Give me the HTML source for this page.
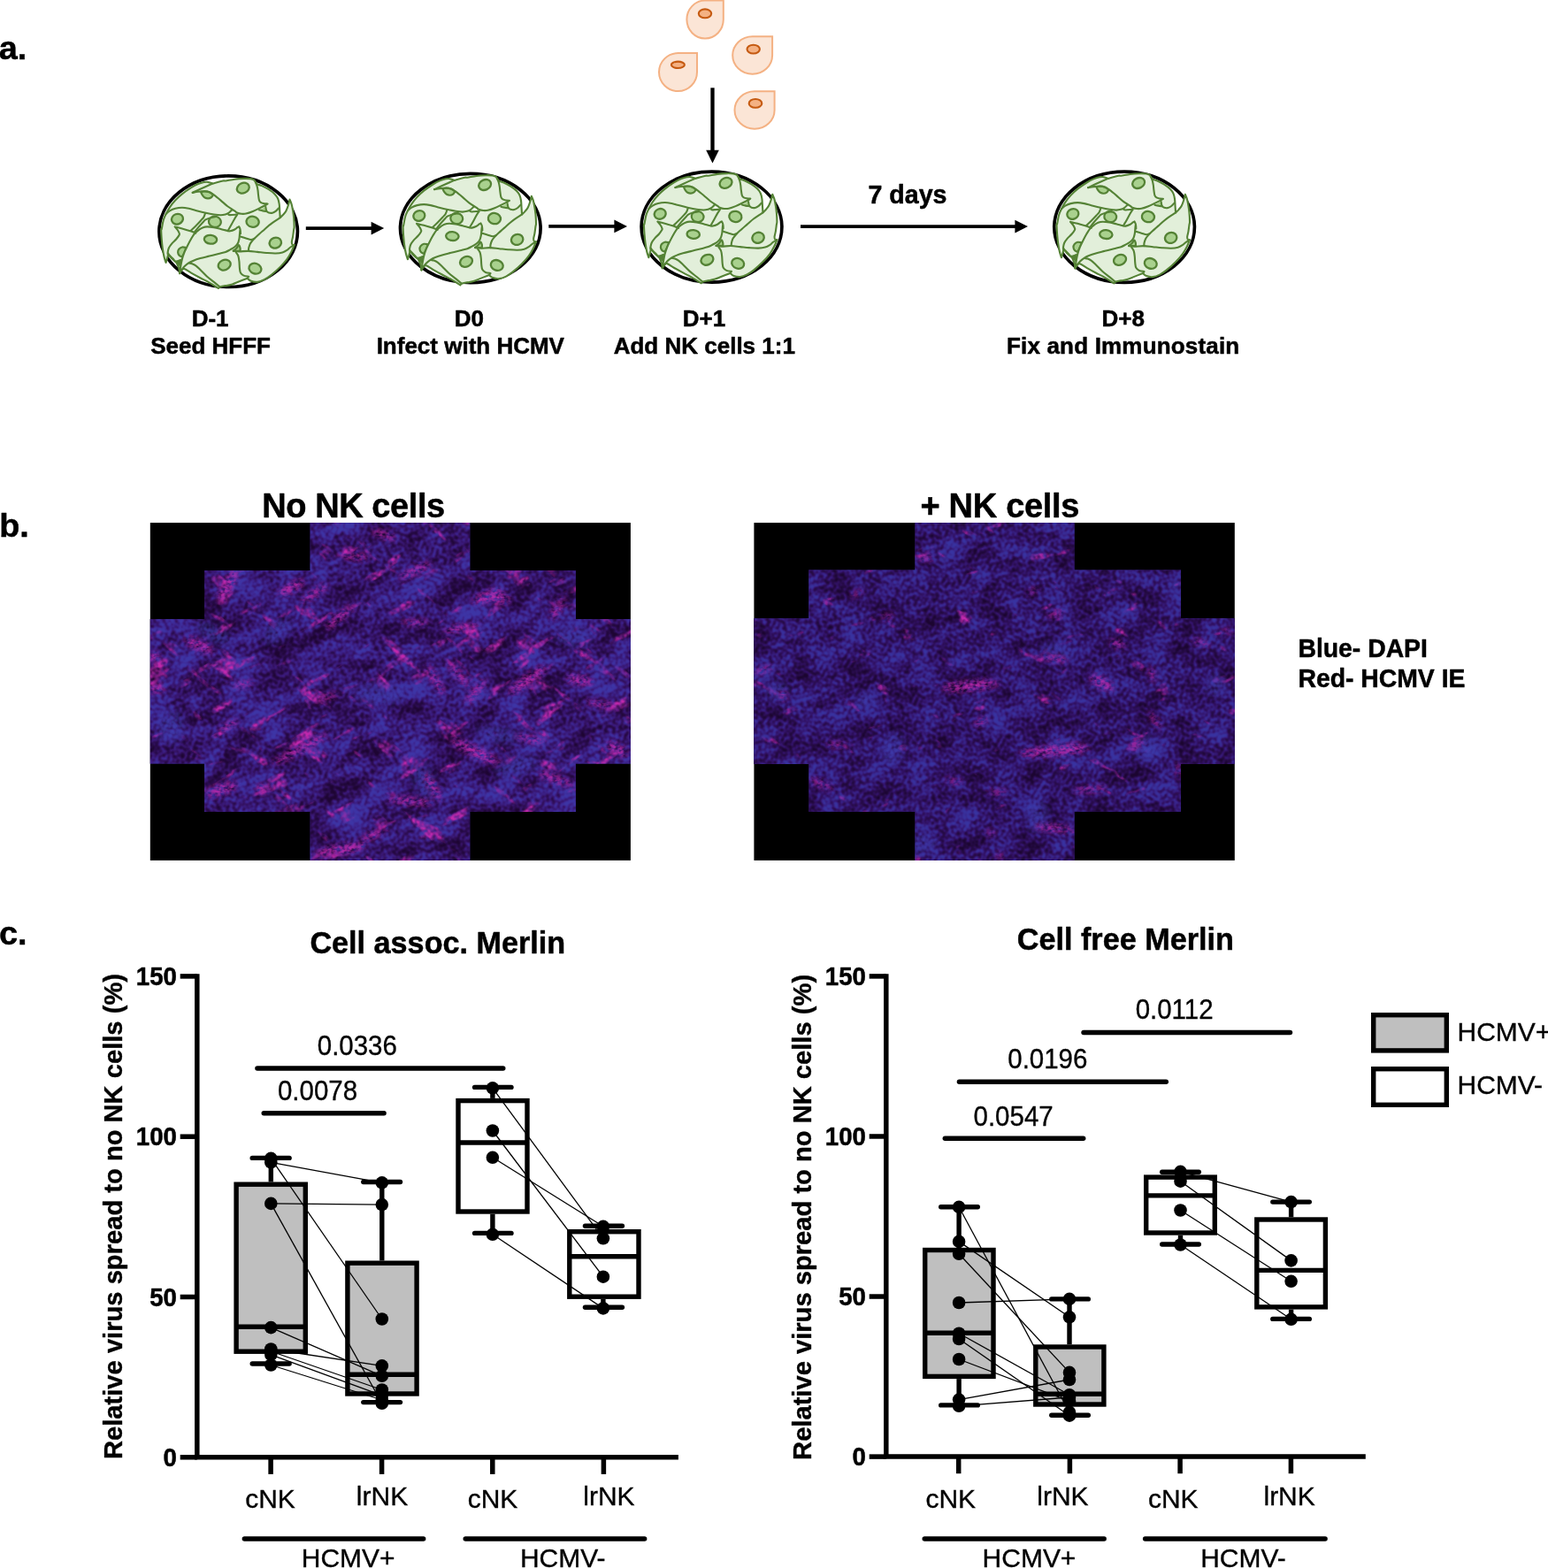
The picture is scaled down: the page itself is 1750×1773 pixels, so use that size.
<!DOCTYPE html>
<html lang="en">
<head>
<meta charset="utf-8">
<title>Figure</title>
<style>
html,body{margin:0;padding:0;background:#fff;}
body{width:1750px;height:1773px;overflow:hidden;font-family:"Liberation Sans",sans-serif;}
svg{display:block;}
svg text{font-family:"Liberation Sans",sans-serif;fill:#000;}
.b{font-weight:bold;stroke:#000;stroke-width:0.5px;stroke-linejoin:round;}
</style>
</head>
<body>
<svg width="1750" height="1773" viewBox="0 0 1750 1773">
<rect x="0" y="0" width="1750" height="1773" fill="#fff"/>
<defs>
<g id="dish">
<path d="M-70.55 35.99C-70.89 34.91 -71.96 32.34 -72.61 29.56C-73.25 26.77 -73.94 22.7 -74.41 19.27C-74.88 15.84 -75.18 12.41 -75.44 8.99C-75.69 5.56 -75.95 0.53 -75.95 -1.3C-75.95 -3.13 -75.86 -0.18 -75.44 -2.01C-75.01 -3.85 -74.19 -9.47 -73.38 -12.3C-72.56 -15.13 -71.75 -16.59 -70.55 -18.99C-69.35 -21.39 -67.94 -24.13 -66.18 -26.7C-64.42 -29.27 -62.32 -31.93 -60.01 -34.41C-57.69 -36.9 -55.29 -39.21 -52.29 -41.61C-49.29 -44.01 -45.01 -46.93 -42.01 -48.81C-39.01 -50.7 -36.69 -51.9 -34.29 -52.93C-31.89 -53.96 -29.32 -54.6 -27.61 -54.99C-25.89 -55.37 -25.12 -55.33 -24.01 -55.24C-22.89 -55.16 -21.95 -54.77 -20.92 -54.47C-19.89 -54.17 -18.35 -53.61 -17.84 -53.44L-17.84 -53.44C-15.86 -53.96 -8.45 -56.01 -6.01 -56.53C-3.56 -57.04 -5.34 -56.23 -3.15 -56.53C-0.96 -56.83 3.71 -57.9 7.14 -58.33C10.56 -58.76 14.42 -59.01 17.42 -59.1C20.42 -59.19 23.25 -59.1 25.14 -58.84C27.02 -58.59 27.79 -58.2 28.74 -57.56C29.68 -56.91 30.19 -55.8 30.79 -54.99C31.39 -54.17 32.08 -53.06 32.34 -52.67L32.34 -52.67C33.28 -52.37 35.76 -51.86 37.99 -50.87C40.22 -49.89 43.31 -48.3 45.71 -46.76C48.11 -45.21 50.68 -43.33 52.39 -41.61C54.11 -39.9 55.14 -38.36 55.99 -36.47C56.85 -34.59 57.19 -32.61 57.54 -30.3C57.88 -27.99 57.88 -25.16 58.05 -22.59C58.22 -20.01 58.48 -16.16 58.56 -14.87L58.56 -14.87C59.16 -15.47 61.05 -17.19 62.16 -18.47C63.28 -19.76 64.31 -20.79 65.25 -22.59C66.19 -24.39 67.14 -27.13 67.82 -29.27C68.51 -31.41 69.11 -34.41 69.36 -35.44L69.36 -35.44C69.71 -34.59 70.82 -32.44 71.42 -30.3C72.02 -28.16 72.54 -25.16 72.96 -22.59C73.39 -20.01 73.74 -17.87 73.99 -14.87C74.25 -11.87 74.51 -6.85 74.51 -4.59C74.51 -2.32 74.25 -3.13 73.99 -1.3C73.74 0.53 73.35 4.1 72.96 6.41C72.58 8.73 71.76 11.04 71.68 12.59C71.59 14.13 71.98 15.11 72.45 15.67C72.92 16.23 74.16 15.89 74.51 15.93L74.51 15.93C73.99 17.17 72.79 20.69 71.42 23.39C70.05 26.09 68.42 29.21 66.28 32.13C64.14 35.04 61.56 37.87 58.56 40.87C55.56 43.87 51.28 47.73 48.28 50.13C45.28 52.53 43.14 53.99 40.56 55.27C37.99 56.56 35.34 57.59 32.85 57.84C30.36 58.1 27.54 57.5 25.65 56.81C23.76 56.13 22.22 54.24 21.54 53.73L21.54 53.73C19.99 54.33 15.11 56.21 12.28 57.33C9.45 58.44 7.14 59.6 4.56 60.41C1.99 61.23 -1.82 61.96 -3.15 62.21C-4.48 62.47 -2.45 61.79 -3.44 61.96C-4.43 62.13 -7.81 62.73 -9.09 63.24C-10.38 63.76 -10.81 64.74 -11.15 65.04L-11.15 65.04C-12.86 63.97 -18.01 60.59 -21.44 58.61C-24.86 56.64 -28.29 55.06 -31.72 53.21C-35.15 51.37 -39.01 49.27 -42.01 47.56C-45.01 45.84 -47.92 43.44 -49.72 42.93C-51.52 42.41 -51.91 43.61 -52.81 44.47C-53.71 45.33 -54.74 47.47 -55.12 48.07L-55.12 48.07C-55.25 47.13 -55.34 44.39 -55.89 42.41C-56.45 40.44 -58.04 37.27 -58.46 36.24L-58.46 36.24C-59.32 35.47 -62.06 33.07 -63.61 31.61C-65.15 30.16 -66.78 27.5 -67.72 27.5C-68.66 27.5 -68.79 30.2 -69.26 31.61C-69.74 33.03 -70.34 35.26 -70.55 35.99Z" fill="#E2EFDA" stroke="#548235" stroke-width="2.1" stroke-linejoin="round"/>
<g fill="#A9D18E" stroke="#548235" stroke-width="2.2" stroke-linejoin="round">
<path d="M-31.21 -44.19C-30.86 -43.5 -29.92 -41.19 -29.15 -40.07C-28.38 -38.96 -27.61 -38.08 -26.58 -37.5C-25.55 -36.92 -24.18 -36.53 -22.98 -36.57C-21.78 -36.62 -20.36 -37.05 -19.38 -37.76C-18.39 -38.47 -17.45 -40.33 -17.06 -40.84L-17.06 -40.84C-17.79 -41.31 -19.85 -43.03 -21.44 -43.67C-23.02 -44.31 -24.95 -44.61 -26.58 -44.7C-28.21 -44.79 -30.44 -44.27 -31.21 -44.19Z"/>
<path d="M-47.66 19.01C-48.44 18.93 -50.92 18.2 -52.29 18.5C-53.66 18.8 -55.1 19.83 -55.89 20.81C-56.68 21.8 -57.11 23.21 -57.02 24.41C-56.94 25.61 -56.17 27.16 -55.38 28.01C-54.59 28.87 -52.81 29.3 -52.29 29.56L-52.29 29.56C-51.86 28.7 -50.49 26.17 -49.72 24.41C-48.95 22.66 -48.01 19.91 -47.66 19.01Z"/>
<path d="M5.59 22.61C6.19 22.14 8.16 20.86 9.19 19.79C10.22 18.71 11.08 16.27 11.76 16.19C12.45 16.1 13.03 18.16 13.31 19.27C13.58 20.39 13.39 22.27 13.41 22.87L13.41 22.87C12.11 22.83 6.9 22.66 5.59 22.61Z"/>
<path d="M35.94 -23.87C36.79 -24.3 40.01 -26.66 41.08 -26.44C42.15 -26.23 42.15 -23.23 42.36 -22.59L42.36 -22.59C41.29 -22.8 37.01 -23.66 35.94 -23.87Z" stroke="none"/>
<ellipse cx="-15.26" cy="-10.24" rx="6.94" ry="6.07" transform="rotate(10 -15.26 -10.24)"/>
</g>
<path d="M-55.12 48.07C-54.91 46.7 -54.31 42.5 -53.84 39.84C-53.36 37.19 -52.98 34.7 -52.29 32.13C-51.61 29.56 -50.75 26.99 -49.72 24.41C-48.69 21.84 -47.41 19.27 -46.12 16.7C-44.84 14.13 -43.38 11.3 -42.01 8.99C-40.64 6.67 -39.39 4.53 -37.89 2.81C-36.39 1.1 -34.46 -0.23 -33.01 -1.29C-31.55 -2.36 -30.65 -3.01 -29.15 -3.56C-27.65 -4.11 -26.15 -4.54 -24.01 -4.59C-21.86 -4.63 -18.86 -4.24 -16.29 -3.81C-13.72 -3.39 -11.15 -2.66 -8.58 -2.01C-6.01 -1.37 -2.63 -0.34 -0.86 0.04C0.9 0.43 0.66 0.56 1.99 0.3C3.33 0.04 5.76 -0.81 7.14 -1.5C8.51 -2.19 9.41 -3.26 10.22 -3.81C11.04 -4.37 11.72 -4.67 12.02 -4.84L12.02 -4.84C12.24 -4.37 13.01 -3.34 13.31 -2.01C13.61 -0.69 13.82 3.01 13.82 3.13C13.82 3.25 13.48 -1.42 13.31 -1.3C13.14 -1.18 12.96 2.13 12.79 3.84C12.62 5.56 12.62 7.27 12.28 8.99C11.94 10.7 11.59 12.59 10.74 14.13C9.88 15.67 8.59 17.04 7.14 18.24C5.68 19.44 3.71 20.39 1.99 21.33C0.28 22.27 -0.96 23.13 -3.15 23.9C-5.34 24.67 -8.1 25.19 -11.15 25.96C-14.2 26.73 -18.01 27.67 -21.44 28.53C-24.86 29.39 -28.72 30.24 -31.72 31.1C-34.72 31.96 -37.29 32.81 -39.44 33.67C-41.58 34.53 -42.86 35.13 -44.58 36.24C-46.29 37.36 -48.26 38.9 -49.72 40.36C-51.18 41.81 -52.42 43.7 -53.32 44.99C-54.22 46.27 -54.82 47.56 -55.12 48.07Z" fill="#E2EFDA" stroke="none"/>
<path d="M3.28 -19.76C3.79 -20.07 5.48 -21.72 6.36 -21.66C7.25 -21.6 8.21 -19.77 8.58 -19.4L8.58 -19.4C7.69 -19.46 4.16 -19.7 3.28 -19.76Z" fill="#fff" stroke="none"/>
<path d="M-59.75 34.7C-58.59 34.31 -53.71 31.27 -52.81 32.39C-51.91 33.5 -54.09 39.89 -54.35 41.39L-54.35 41.39C-55.25 40.27 -58.85 35.81 -59.75 34.7Z" fill="#548235" stroke="none"/>
<g fill="none" stroke="#548235" stroke-width="2.1" stroke-linecap="round" stroke-linejoin="round">
<path d="M-40.46 -43.16C-39.44 -43.33 -36.61 -43.93 -34.29 -44.19C-31.98 -44.44 -28.72 -44.79 -26.58 -44.7C-24.44 -44.61 -23.15 -44.36 -21.44 -43.67C-19.72 -42.99 -18.44 -42.13 -16.29 -40.59C-14.15 -39.04 -11.15 -36.56 -8.58 -34.41C-6.01 -32.27 -3.44 -29.7 -0.86 -27.73C1.71 -25.76 5.12 -23.79 6.88 -22.59C8.64 -21.39 8.38 -21.09 9.71 -20.53C11.04 -19.97 13.14 -19.41 14.85 -19.24C16.56 -19.07 17.85 -19.03 19.99 -19.5C22.14 -19.97 25.14 -21.04 27.71 -22.07C30.28 -23.1 33.28 -24.64 35.42 -25.67C37.56 -26.7 39.06 -27.43 40.56 -28.24C42.06 -29.06 43.78 -30.17 44.42 -30.56L44.42 -30.56C43.78 -30.6 41.81 -30.6 40.56 -30.81C39.32 -31.03 37.91 -31.24 36.96 -31.84C36.02 -32.44 35.42 -32.96 34.91 -34.41C34.39 -35.87 34.14 -38.7 33.88 -40.59C33.62 -42.47 33.62 -44.01 33.36 -45.73C33.11 -47.44 32.76 -49.33 32.34 -50.87C31.91 -52.41 31.05 -54.3 30.79 -54.99"/>
<path d="M-40.46 -43.16C-39.01 -43.84 -35.49 -45.56 -31.72 -47.27C-27.95 -48.99 -20.15 -52.41 -17.84 -53.44"/>
<path d="M-70.55 -18.99C-69.82 -19.59 -67.94 -21.56 -66.18 -22.59C-64.42 -23.61 -62.32 -24.56 -60.01 -25.16C-57.69 -25.76 -54.86 -26.19 -52.29 -26.19C-49.72 -26.19 -47.15 -25.67 -44.58 -25.16C-42.01 -24.64 -39.86 -23.87 -36.86 -23.1C-33.86 -22.33 -30.01 -21.3 -26.58 -20.53C-23.15 -19.76 -19.29 -18.94 -16.29 -18.47C-13.29 -18 -10.72 -17.7 -8.58 -17.7C-6.44 -17.7 -4.89 -18.09 -3.44 -18.47C-1.98 -18.86 -1.04 -19.2 0.16 -20.01C1.36 -20.83 3.16 -22.8 3.76 -23.36"/>
<path d="M0.16 -18.21C0.47 -18.15 0.53 -17.81 1.99 -17.85C3.45 -17.9 7.78 -18.37 8.94 -18.47"/>
<path d="M-26.06 -20.01C-26.36 -19.24 -27.05 -16.76 -27.86 -15.39C-28.68 -14.01 -29.45 -13.41 -30.95 -11.79C-32.45 -10.16 -34.94 -7.54 -36.86 -5.61C-38.79 -3.69 -41.58 -1.11 -42.52 -0.21"/>
<path d="M-13.72 -16.16C-15.01 -15.86 -19.42 -14.96 -21.44 -14.36C-23.45 -13.76 -24.61 -13.33 -25.81 -12.56C-27.01 -11.79 -27.31 -11.14 -28.64 -9.73C-29.96 -8.31 -32.19 -5.91 -33.78 -4.07C-35.36 -2.23 -37.42 0.43 -38.15 1.33"/>
<path d="M-36.86 2.61C-37.72 2.27 -39.44 1.41 -42.01 0.56C-44.58 -0.3 -49.21 -1.67 -52.29 -2.53C-55.38 -3.39 -59.15 -4.24 -60.52 -4.59L-60.52 -4.59C-60.01 -3.99 -58.29 -2.27 -57.44 -0.99C-56.58 0.3 -55.68 2.15 -55.38 3.13C-55.08 4.1 -55.04 3.81 -55.64 4.87C-56.24 5.93 -57.65 7.96 -58.98 9.5C-60.31 11.04 -62.24 12.5 -63.61 14.13C-64.98 15.76 -66.39 17.56 -67.21 19.27C-68.02 20.99 -68.32 23.04 -68.49 24.41C-68.66 25.79 -68.28 26.99 -68.24 27.5"/>
<path d="M-68.24 25.44C-67.89 25.87 -67.12 26.99 -66.18 28.01C-65.24 29.04 -63.69 30.54 -62.58 31.61C-61.46 32.69 -61.04 34.27 -59.49 34.44C-57.95 34.61 -54.35 32.94 -53.32 32.64"/>
<path d="M-55.12 48.07C-54.91 46.7 -54.31 42.5 -53.84 39.84C-53.36 37.19 -52.98 34.7 -52.29 32.13C-51.61 29.56 -50.75 26.99 -49.72 24.41C-48.69 21.84 -47.41 19.27 -46.12 16.7C-44.84 14.13 -43.38 11.3 -42.01 8.99C-40.64 6.67 -39.39 4.53 -37.89 2.81C-36.39 1.1 -34.46 -0.23 -33.01 -1.29C-31.55 -2.36 -30.65 -3.01 -29.15 -3.56C-27.65 -4.11 -26.15 -4.54 -24.01 -4.59C-21.86 -4.63 -18.86 -4.24 -16.29 -3.81C-13.72 -3.39 -11.15 -2.66 -8.58 -2.01C-6.01 -1.37 -2.63 -0.34 -0.86 0.04C0.9 0.43 0.66 0.56 1.99 0.3C3.33 0.04 5.76 -0.81 7.14 -1.5C8.51 -2.19 9.41 -3.26 10.22 -3.81C11.04 -4.37 11.72 -4.67 12.02 -4.84L12.02 -4.84C12.24 -4.37 13.01 -3.34 13.31 -2.01C13.61 -0.69 13.82 3.01 13.82 3.13C13.82 3.25 13.48 -1.42 13.31 -1.3C13.14 -1.18 12.96 2.13 12.79 3.84C12.62 5.56 12.62 7.27 12.28 8.99C11.94 10.7 11.59 12.59 10.74 14.13C9.88 15.67 8.59 17.04 7.14 18.24C5.68 19.44 3.71 20.39 1.99 21.33C0.28 22.27 -0.96 23.13 -3.15 23.9C-5.34 24.67 -8.1 25.19 -11.15 25.96C-14.2 26.73 -18.01 27.67 -21.44 28.53C-24.86 29.39 -28.72 30.24 -31.72 31.1C-34.72 31.96 -37.29 32.81 -39.44 33.67C-41.58 34.53 -42.86 35.13 -44.58 36.24C-46.29 37.36 -48.26 38.9 -49.72 40.36C-51.18 41.81 -52.42 43.7 -53.32 44.99C-54.22 46.27 -54.82 47.56 -55.12 48.07Z"/>
<path d="M10.22 -18.47C9.71 -17.7 8.25 -15.73 7.14 -13.84C6.02 -11.96 4.82 -9.47 3.54 -7.16C2.25 -4.84 0.11 -1.16 -0.58 0.04"/>
<path d="M13.56 6.41C14.64 6.76 17.98 7.87 19.99 8.47C22.01 9.07 24.11 9.97 25.65 10.01C27.19 10.06 28.65 8.94 29.25 8.73"/>
<path d="M58.56 -14.87C56.85 -13.71 51.28 -10.19 48.28 -7.93C45.28 -5.67 43.22 -3.6 40.56 -1.3C37.91 1 34.48 3.93 32.34 5.9C30.19 7.87 28.99 9.07 27.71 10.53C26.42 11.99 25.39 13.19 24.62 14.64C23.85 16.1 23.38 17.9 23.08 19.27C22.78 20.64 22.86 22.27 22.82 22.87"/>
<path d="M5.59 22.87C6.71 22.96 9.45 23.39 12.28 23.39C15.11 23.39 19.14 22.79 22.56 22.87C25.99 22.96 29.42 23.56 32.85 23.9C36.28 24.24 39.71 24.67 43.14 24.93C46.56 25.19 50.42 25.53 53.42 25.44C56.42 25.36 58.99 25.01 61.14 24.41C63.28 23.81 64.82 22.79 66.28 21.84C67.74 20.9 68.51 19.74 69.88 18.76C71.25 17.77 73.74 16.4 74.51 15.93"/>
<path d="M8.68 24.41C9.11 25.1 10.65 26.81 11.25 28.53C11.85 30.24 12.02 32.39 12.28 34.7C12.54 37.01 12.54 40.27 12.79 42.41C13.05 44.56 13.05 46.19 13.82 47.56C14.59 48.93 15.88 49.96 17.42 50.64C18.96 51.33 22.14 51.5 23.08 51.67L23.08 51.67C22.82 52.01 21.79 53.39 21.54 53.73"/>
<path d="M-44.06 36.76C-43.55 36.84 -42.18 36.84 -40.98 37.27C-39.78 37.7 -38.41 38.21 -36.86 39.33C-35.32 40.44 -33.86 41.9 -31.72 43.96C-29.58 46.01 -26.58 49.36 -24.01 51.67C-21.44 53.99 -18.61 55.96 -16.29 57.84C-13.98 59.73 -11.15 62.13 -10.12 62.99"/>
<path d="M42.11 -27.21C42.28 -26.44 42.54 -23.7 43.14 -22.59C43.74 -21.47 44.59 -20.91 45.71 -20.53C46.82 -20.14 48.54 -20.01 49.82 -20.27C51.11 -20.53 52.22 -21.17 53.42 -22.07C54.62 -22.97 56.42 -25.07 57.02 -25.67"/>
<path d="M34.91 -23.61C35.59 -23.44 37.65 -22.84 39.02 -22.59C40.39 -22.33 42.45 -22.16 43.14 -22.07"/>
</g>
<g fill="#A9D18E" stroke="#548235" stroke-width="2.3">
<ellipse cx="-57.69" cy="-13.33" rx="6.58" ry="5.76" transform="rotate(-20 -57.69 -13.33)"/>
<ellipse cx="16.65" cy="-48.3" rx="7.2" ry="5.66" transform="rotate(-25 16.65 -48.3)"/>
<ellipse cx="27.45" cy="-10.24" rx="7.1" ry="6.07" transform="rotate(10 27.45 -10.24)"/>
<ellipse cx="-20.15" cy="9.76" rx="7.2" ry="4.89" transform="rotate(5 -20.15 9.76)"/>
<ellipse cx="-4.46" cy="38.56" rx="7.2" ry="5.66" transform="rotate(-25 -4.46 38.56)"/>
<ellipse cx="30.28" cy="42.67" rx="7.1" ry="5.76" transform="rotate(20 30.28 42.67)"/>
<ellipse cx="53.16" cy="13.61" rx="6.79" ry="5.91" transform="rotate(-20 53.16 13.61)"/>
</g>
</g>
</defs>
<g id="panel-a">
<text class="b" x="-1.2" y="66.5" font-size="37.8">a.</text>
<ellipse cx="258.15" cy="261.7" rx="78.25" ry="62.8" fill="#fff" stroke="#000" stroke-width="3.7"/><use href="#dish" x="258.15" y="261"/>
<ellipse cx="531.8" cy="258" rx="79.3" ry="61.6" fill="#fff" stroke="#000" stroke-width="3.7"/><use href="#dish" x="531.5" y="257.3"/>
<ellipse cx="804.5" cy="256.6" rx="79.4" ry="62.5" fill="#fff" stroke="#000" stroke-width="3.7"/><use href="#dish" x="803.9" y="255.2"/>
<ellipse cx="1271.1" cy="256.7" rx="79.3" ry="62.6" fill="#fff" stroke="#000" stroke-width="3.7"/><use href="#dish" x="1270.5" y="255.3"/>
<line x1="345.8" y1="258.1" x2="420.6" y2="258.1" stroke="#000" stroke-width="3.9"/><path d="M434.2 258.1 L419.6 265.4 L419.6 250.8 Z" fill="#000"/>
<line x1="620.3" y1="255.9" x2="695.4" y2="255.9" stroke="#000" stroke-width="3.6"/><path d="M709 255.9 L694.4 263.2 L694.4 248.6 Z" fill="#000"/>
<line x1="905" y1="256.1" x2="1148.4" y2="256.1" stroke="#000" stroke-width="3.9"/><path d="M1162 256.1 L1147.4 263.4 L1147.4 248.8 Z" fill="#000"/>
<line x1="805.5" y1="99.3" x2="805.5" y2="170.8" stroke="#000" stroke-width="4.3"/><path d="M805.5 184.4 L798.2 169.8 L812.8 169.8 Z" fill="#000"/>
<path d="M817.8 0.6 L797.1 0.6 A20.7 21.5 0 1 0 817.8 22.1 Z" fill="#FBE5D6" stroke="#F4B183" stroke-width="2" stroke-linejoin="miter"/><ellipse cx="797" cy="15.3" rx="7.2" ry="4.9" fill="#F4B183" stroke="#C55A11" stroke-width="2.1"/>
<path d="M873.1 41.2 L850.65 41.2 A22.45 21.3 0 1 0 873.1 62.5 Z" fill="#FBE5D6" stroke="#F4B183" stroke-width="2" stroke-linejoin="miter"/><ellipse cx="851.7" cy="55.6" rx="7.2" ry="4.9" fill="#F4B183" stroke="#C55A11" stroke-width="2.1"/>
<path d="M788 60.1 L766.5 60.1 A21.5 21.5 0 1 0 788 81.6 Z" fill="#FBE5D6" stroke="#F4B183" stroke-width="2" stroke-linejoin="miter"/><ellipse cx="766.4" cy="73.3" rx="7.5" ry="3.7" fill="#F4B183" stroke="#C55A11" stroke-width="2.1"/>
<path d="M875.6 103.2 L853.05 103.2 A22.55 21.3 0 1 0 875.6 124.5 Z" fill="#FBE5D6" stroke="#F4B183" stroke-width="2" stroke-linejoin="miter"/><ellipse cx="854" cy="116.9" rx="7.3" ry="4.9" fill="#F4B183" stroke="#C55A11" stroke-width="2.1"/>
<text class="b" text-anchor="middle" font-size="26"><tspan x="237.6" y="368.8">D-1</tspan><tspan x="238.1" y="399.8">Seed HFFF</tspan></text>
<text class="b" text-anchor="middle" font-size="26"><tspan x="530.4" y="368.8">D0</tspan><tspan x="531.8" y="399.8">Infect with HCMV</tspan></text>
<text class="b" text-anchor="middle" font-size="26"><tspan x="796" y="368.8">D+1</tspan><tspan x="796.3" y="399.8">Add NK cells 1:1</tspan></text>
<text class="b" text-anchor="middle" font-size="26"><tspan x="1269.8" y="368.8">D+8</tspan><tspan x="1269.7" y="399.8" letter-spacing="0.18">Fix and Immunostain</tspan></text>
<text class="b" text-anchor="middle" x="1026" y="229.8" font-size="28.6">7 days</text>
</g>
<g id="panel-b">
<text class="b" x="-0.8" y="607" font-size="37.8">b.</text>
<text class="b" text-anchor="middle" x="399.7" y="584.9" font-size="38" textLength="206.9" lengthAdjust="spacing">No NK cells</text>
<text class="b" text-anchor="middle" x="1130.3" y="585.2" font-size="38" letter-spacing="-0.3">+ NK cells</text>
<filter id="mb1" x="0" y="0" width="100%" height="100%" color-interpolation-filters="sRGB">
<feTurbulence type="fractalNoise" baseFrequency="0.022 0.04" numOctaves="3" seed="11" result="lo"/>
<feTurbulence type="fractalNoise" baseFrequency="0.24" numOctaves="1" seed="18" result="hi"/>
<feColorMatrix in="hi" type="matrix" values="0 0 1.1 0 -0.050000000000000044  0 0 1.1 0 -0.050000000000000044  0 0 1.1 0 -0.050000000000000044  0 0 0 0 1" result="hi2"/>
<feColorMatrix in="lo" type="matrix" values="0 0 1.2 0 -0.09999999999999998  0 0 1.2 0 -0.09999999999999998  0 0 1.2 0 -0.09999999999999998  0 0 0 0 1" result="lo2"/>
<feComposite in="lo2" in2="hi2" operator="arithmetic" k1="0" k2="1" k3="1" k4="-0.5" result="mix"/>
<feComponentTransfer in="mix">
<feFuncR type="table" tableValues="0.12 0.13 0.15 0.17 0.20 0.22 0.23 0.24 0.24 0.24 0.24"/>
<feFuncG type="table" tableValues="0.02 0.03 0.04 0.05 0.07 0.09 0.12 0.15 0.18 0.20 0.21"/>
<feFuncB type="table" tableValues="0.20 0.23 0.27 0.32 0.38 0.45 0.51 0.57 0.61 0.64 0.65"/>
<feFuncA type="linear" slope="0" intercept="1"/>
</feComponentTransfer>
</filter>
<filter id="mb2" x="0" y="0" width="100%" height="100%" color-interpolation-filters="sRGB">
<feTurbulence type="fractalNoise" baseFrequency="0.03 0.04" numOctaves="3" seed="29" result="lo"/>
<feTurbulence type="fractalNoise" baseFrequency="0.24" numOctaves="1" seed="36" result="hi"/>
<feColorMatrix in="hi" type="matrix" values="0 0 1.2 0 -0.09999999999999998  0 0 1.2 0 -0.09999999999999998  0 0 1.2 0 -0.09999999999999998  0 0 0 0 1" result="hi2"/>
<feColorMatrix in="lo" type="matrix" values="0 0 1.0 0 0.0  0 0 1.0 0 0.0  0 0 1.0 0 0.0  0 0 0 0 1" result="lo2"/>
<feComposite in="lo2" in2="hi2" operator="arithmetic" k1="0" k2="1" k3="1" k4="-0.5" result="mix"/>
<feComponentTransfer in="mix">
<feFuncR type="table" tableValues="0.11 0.12 0.14 0.16 0.18 0.20 0.21 0.22 0.22 0.22 0.22"/>
<feFuncG type="table" tableValues="0.02 0.03 0.04 0.05 0.06 0.08 0.11 0.14 0.17 0.19 0.20"/>
<feFuncB type="table" tableValues="0.19 0.22 0.26 0.30 0.36 0.42 0.48 0.54 0.58 0.61 0.63"/>
<feFuncA type="linear" slope="0" intercept="1"/>
</feComponentTransfer>
</filter>
<filter id="mm1" x="0" y="0" width="100%" height="100%" color-interpolation-filters="sRGB">
<feTurbulence type="fractalNoise" baseFrequency="0.02 0.06" numOctaves="3" seed="5" result="lo"/>
<feTurbulence type="fractalNoise" baseFrequency="0.24" numOctaves="1" seed="10" result="hi"/>
<feColorMatrix in="hi" type="matrix" values="0 0 0 0 0  0 0 0 0 0  0 0 0 0 0  2.5 0 0 0 -0.6" result="hi2"/>
<feColorMatrix in="lo" type="matrix" values="0 0 0 0 0  0 0 0 0 0  0 0 0 0 0  7 0 0 0 -4.62" result="lo2"/>
<feComposite in="lo2" in2="hi2" operator="arithmetic" k1="1" k2="0" k3="0" k4="0" result="a"/>
<feColorMatrix in="a" type="matrix" values="0 0 0 0 0.76  0 0 0 0 0.16  0 0 0 0 0.68  0 0 0 1 0"/>
</filter>
<filter id="mm2" x="0" y="0" width="100%" height="100%" color-interpolation-filters="sRGB">
<feTurbulence type="fractalNoise" baseFrequency="0.02 0.06" numOctaves="3" seed="17" result="lo"/>
<feTurbulence type="fractalNoise" baseFrequency="0.24" numOctaves="1" seed="22" result="hi"/>
<feColorMatrix in="hi" type="matrix" values="0 0 0 0 0  0 0 0 0 0  0 0 0 0 0  2.5 0 0 0 -0.6" result="hi2"/>
<feColorMatrix in="lo" type="matrix" values="0 0 0 0 0  0 0 0 0 0  0 0 0 0 0  7 0 0 0 -4.7250000000000005" result="lo2"/>
<feComposite in="lo2" in2="hi2" operator="arithmetic" k1="1" k2="0" k3="0" k4="0" result="a"/>
<feColorMatrix in="a" type="matrix" values="0 0 0 0 0.76  0 0 0 0 0.16  0 0 0 0 0.68  0 0 0 1 0"/>
</filter>
<filter id="mm3" x="0" y="0" width="100%" height="100%" color-interpolation-filters="sRGB">
<feTurbulence type="fractalNoise" baseFrequency="0.025 0.06" numOctaves="3" seed="41" result="lo"/>
<feTurbulence type="fractalNoise" baseFrequency="0.24" numOctaves="1" seed="46" result="hi"/>
<feColorMatrix in="hi" type="matrix" values="0 0 0 0 0  0 0 0 0 0  0 0 0 0 0  2.5 0 0 0 -0.6" result="hi2"/>
<feColorMatrix in="lo" type="matrix" values="0 0 0 0 0  0 0 0 0 0  0 0 0 0 0  7 0 0 0 -5.109999999999999" result="lo2"/>
<feComposite in="lo2" in2="hi2" operator="arithmetic" k1="1" k2="0" k3="0" k4="0" result="a"/>
<feColorMatrix in="a" type="matrix" values="0 0 0 0 0.76  0 0 0 0 0.16  0 0 0 0 0.68  0 0 0 1 0"/>
</filter>
<filter id="mm4" x="0" y="0" width="100%" height="100%" color-interpolation-filters="sRGB">
<feTurbulence type="fractalNoise" baseFrequency="0.025 0.06" numOctaves="3" seed="57" result="lo"/>
<feTurbulence type="fractalNoise" baseFrequency="0.24" numOctaves="1" seed="62" result="hi"/>
<feColorMatrix in="hi" type="matrix" values="0 0 0 0 0  0 0 0 0 0  0 0 0 0 0  2.5 0 0 0 -0.6" result="hi2"/>
<feColorMatrix in="lo" type="matrix" values="0 0 0 0 0  0 0 0 0 0  0 0 0 0 0  7 0 0 0 -5.18" result="lo2"/>
<feComposite in="lo2" in2="hi2" operator="arithmetic" k1="1" k2="0" k3="0" k4="0" result="a"/>
<feColorMatrix in="a" type="matrix" values="0 0 0 0 0.76  0 0 0 0 0.16  0 0 0 0 0.68  0 0 0 1 0"/>
</filter>
<filter id="stk" x="-2%" y="-2%" width="104%" height="104%" color-interpolation-filters="sRGB">
<feGaussianBlur in="SourceGraphic" stdDeviation="3" result="b"/>
<feTurbulence type="fractalNoise" baseFrequency="0.2 0.3" numOctaves="2" seed="4" result="n"/>
<feColorMatrix in="n" type="matrix" values="0 0 0 0 0  0 0 0 0 0  0 0 0 0 0  2.6 0 0 0 -0.72" result="na"/>
<feComposite in="b" in2="na" operator="in"/>
</filter>
<filter id="stkb" x="-2%" y="-2%" width="104%" height="104%" color-interpolation-filters="sRGB">
<feGaussianBlur in="SourceGraphic" stdDeviation="5" result="b"/>
<feTurbulence type="fractalNoise" baseFrequency="0.26" numOctaves="1" seed="9" result="n"/>
<feColorMatrix in="n" type="matrix" values="0 0 0 0 0  0 0 0 0 0  0 0 0 0 0  2.4 0 0 0 -0.5" result="na"/>
<feComposite in="b" in2="na" operator="in"/>
</filter>
<g id="micro1"><rect x="169.8" y="591.1" width="543.1" height="381.8" fill="#000"/><clipPath id="cross1"><path d="M350.6 591.1 L531.3 591.1 L531.3 645.1 L650.9 645.1 L650.9 699.9 L712.9 699.9 L712.9 863.4 L650.9 863.4 L650.9 918.1 L531.3 918.1 L531.3 972.9 L350.6 972.9 L350.6 918.1 L231 918.1 L231 863.4 L169.8 863.4 L169.8 699.9 L231 699.9 L231 645.1 L350.6 645.1Z"/></clipPath><path d="M350.6 591.1 L531.3 591.1 L531.3 645.1 L650.9 645.1 L650.9 699.9 L712.9 699.9 L712.9 863.4 L650.9 863.4 L650.9 918.1 L531.3 918.1 L531.3 972.9 L350.6 972.9 L350.6 918.1 L231 918.1 L231 863.4 L169.8 863.4 L169.8 699.9 L231 699.9 L231 645.1 L350.6 645.1Z" fill="#2e1a72"/><g clip-path="url(#cross1)"><rect x="81.35" y="442" width="720" height="680" fill="#2e1a72" filter="url(#mb1)" transform="rotate(-25 441.35 782)"/><rect x="81.35" y="442" width="720" height="680" fill="#2e1a72" filter="url(#mm1)" transform="rotate(-30 441.35 782)"/><rect x="81.35" y="442" width="720" height="680" fill="#2e1a72" filter="url(#mm2)" transform="rotate(40 441.35 782)"/><g filter="url(#stkb)" fill="#3f3fb0" opacity="0.75"><ellipse cx="430.36" cy="785.21" rx="27.69" ry="11.4" transform="rotate(0 430.36 785.21)"/><ellipse cx="313.09" cy="713.55" rx="19.54" ry="9.77" transform="rotate(-35 313.09 713.55)"/><ellipse cx="192.57" cy="821.04" rx="14.66" ry="17.92" transform="rotate(0 192.57 821.04)"/><ellipse cx="479.22" cy="882.93" rx="11.4" ry="21.17" transform="rotate(-20 479.22 882.93)"/><ellipse cx="583.45" cy="866.64" rx="24.43" ry="9.77" transform="rotate(-20 583.45 866.64)"/><ellipse cx="241.43" cy="716.81" rx="22.8" ry="8.14" transform="rotate(30 241.43 716.81)"/><ellipse cx="648.6" cy="720.07" rx="19.54" ry="9.77" transform="rotate(0 648.6 720.07)"/><ellipse cx="563.91" cy="830.81" rx="26.06" ry="8.14" transform="rotate(10 563.91 830.81)"/></g><g filter="url(#stk)" fill="#c42bb0" opacity="0.9"><ellipse cx="433.62" cy="604.43" rx="14.66" ry="3.58" transform="rotate(20 433.62 604.43)"/><ellipse cx="401.04" cy="628.86" rx="16.29" ry="3.58" transform="rotate(5 401.04 628.86)"/><ellipse cx="469.45" cy="645.15" rx="19.54" ry="3.91" transform="rotate(-25 469.45 645.15)"/><ellipse cx="355.44" cy="671.21" rx="17.92" ry="3.58" transform="rotate(-35 355.44 671.21)"/><ellipse cx="384.76" cy="697.26" rx="21.17" ry="3.91" transform="rotate(-40 384.76 697.26)"/><ellipse cx="550.88" cy="674.46" rx="17.92" ry="5.54" transform="rotate(-20 550.88 674.46)"/><ellipse cx="630.68" cy="687.49" rx="14.66" ry="3.91" transform="rotate(-60 630.68 687.49)"/><ellipse cx="225.15" cy="729.84" rx="17.92" ry="5.54" transform="rotate(25 225.15 729.84)"/><ellipse cx="174.66" cy="742.87" rx="5.7" ry="5.54" transform="rotate(0 174.66 742.87)"/><ellipse cx="469.45" cy="703.78" rx="16.29" ry="2.93" transform="rotate(0 469.45 703.78)"/><ellipse cx="521.56" cy="710.29" rx="21.17" ry="3.26" transform="rotate(-10 521.56 710.29)"/><ellipse cx="492.25" cy="768.93" rx="19.54" ry="3.58" transform="rotate(60 492.25 768.93)"/><ellipse cx="518.31" cy="762.41" rx="17.92" ry="3.58" transform="rotate(50 518.31 762.41)"/><ellipse cx="537.85" cy="781.95" rx="17.92" ry="3.58" transform="rotate(-50 537.85 781.95)"/><ellipse cx="596.48" cy="768.93" rx="26.06" ry="5.54" transform="rotate(-35 596.48 768.93)"/><ellipse cx="655.11" cy="768.93" rx="14.66" ry="5.54" transform="rotate(10 655.11 768.93)"/><ellipse cx="176.29" cy="778.7" rx="8.14" ry="4.89" transform="rotate(0 176.29 778.7)"/><ellipse cx="274.01" cy="773.81" rx="11.4" ry="2.93" transform="rotate(-10 274.01 773.81)"/><ellipse cx="257.72" cy="821.04" rx="13.03" ry="3.26" transform="rotate(-30 257.72 821.04)"/><ellipse cx="339.15" cy="847.1" rx="35.83" ry="4.23" transform="rotate(-28 339.15 847.1)"/><ellipse cx="537.85" cy="850.36" rx="30.94" ry="5.54" transform="rotate(25 537.85 850.36)"/><ellipse cx="599.74" cy="835.7" rx="17.92" ry="3.26" transform="rotate(10 599.74 835.7)"/><ellipse cx="681.17" cy="796.61" rx="19.54" ry="3.26" transform="rotate(10 681.17 796.61)"/><ellipse cx="462.93" cy="905.73" rx="26.06" ry="3.91" transform="rotate(5 462.93 905.73)"/><ellipse cx="488.99" cy="889.45" rx="17.92" ry="3.91" transform="rotate(60 488.99 889.45)"/><ellipse cx="629.06" cy="881.3" rx="21.17" ry="3.91" transform="rotate(20 629.06 881.3)"/><ellipse cx="384.76" cy="961.11" rx="29.32" ry="5.54" transform="rotate(-10 384.76 961.11)"/><ellipse cx="251.21" cy="892.7" rx="17.92" ry="5.54" transform="rotate(-20 251.21 892.7)"/><ellipse cx="295.18" cy="892.7" rx="6.51" ry="5.54" transform="rotate(0 295.18 892.7)"/><ellipse cx="257.72" cy="661.43" rx="19.54" ry="5.54" transform="rotate(-60 257.72 661.43)"/><ellipse cx="329.38" cy="664.69" rx="16.29" ry="4.89" transform="rotate(-30 329.38 664.69)"/><ellipse cx="697.46" cy="847.1" rx="13.03" ry="5.54" transform="rotate(30 697.46 847.1)"/><ellipse cx="420.59" cy="944.82" rx="14.66" ry="3.26" transform="rotate(-20 420.59 944.82)"/><ellipse cx="567.17" cy="677.72" rx="9.77" ry="4.89" transform="rotate(0 567.17 677.72)"/><ellipse cx="368.47" cy="788.47" rx="14.66" ry="2.93" transform="rotate(-15 368.47 788.47)"/></g></g></g>
<g id="micro2"><rect x="852.4" y="591.1" width="543.4" height="381.8" fill="#000"/><clipPath id="cross2"><path d="M1034.4 591.1 L1214.6 591.1 L1214.6 644.5 L1335 644.5 L1335 699.2 L1395.8 699.2 L1395.8 864 L1335 864 L1335 917.8 L1214.6 917.8 L1214.6 972.9 L1034.4 972.9 L1034.4 917.8 L914.3 917.8 L914.3 864 L852.4 864 L852.4 699.2 L914.3 699.2 L914.3 644.5 L1034.4 644.5Z"/></clipPath><path d="M1034.4 591.1 L1214.6 591.1 L1214.6 644.5 L1335 644.5 L1335 699.2 L1395.8 699.2 L1395.8 864 L1335 864 L1335 917.8 L1214.6 917.8 L1214.6 972.9 L1034.4 972.9 L1034.4 917.8 L914.3 917.8 L914.3 864 L852.4 864 L852.4 699.2 L914.3 699.2 L914.3 644.5 L1034.4 644.5Z" fill="#2e1a72"/><g clip-path="url(#cross2)"><rect x="764.1" y="442" width="720" height="680" fill="#2e1a72" filter="url(#mb2)" transform="rotate(-15 1124.1 782)"/><rect x="764.1" y="442" width="720" height="680" fill="#2e1a72" filter="url(#mm3)" transform="rotate(-20 1124.1 782)"/><rect x="764.1" y="442" width="720" height="680" fill="#2e1a72" filter="url(#mm4)" transform="rotate(30 1124.1 782)"/><g filter="url(#stkb)" fill="#3f3fb0" opacity="0.75"><ellipse cx="1195.05" cy="736.35" rx="17.92" ry="7.33" transform="rotate(10 1195.05 736.35)"/><ellipse cx="1009.38" cy="847.1" rx="11.4" ry="17.92" transform="rotate(10 1009.38 847.1)"/><ellipse cx="980.07" cy="791.73" rx="11.4" ry="8.14" transform="rotate(0 980.07 791.73)"/><ellipse cx="879.09" cy="781.95" rx="11.4" ry="9.77" transform="rotate(0 879.09 781.95)"/><ellipse cx="1172.25" cy="922.02" rx="11.4" ry="17.92" transform="rotate(0 1172.25 922.02)"/><ellipse cx="1296.03" cy="847.1" rx="14.66" ry="13.03" transform="rotate(0 1296.03 847.1)"/><ellipse cx="1374.2" cy="775.44" rx="9.77" ry="11.4" transform="rotate(0 1374.2 775.44)"/><ellipse cx="1041.95" cy="954.59" rx="16.29" ry="9.77" transform="rotate(0 1041.95 954.59)"/></g><g filter="url(#stk)" fill="#c42bb0" opacity="0.9"><ellipse cx="1045.21" cy="630.49" rx="8.96" ry="2.93" transform="rotate(10 1045.21 630.49)"/><ellipse cx="968.66" cy="671.21" rx="7.33" ry="2.28" transform="rotate(-30 968.66 671.21)"/><ellipse cx="1002.87" cy="697.26" rx="7.33" ry="2.28" transform="rotate(-20 1002.87 697.26)"/><ellipse cx="1167.36" cy="667.95" rx="6.51" ry="2.28" transform="rotate(-30 1167.36 667.95)"/><ellipse cx="1193.42" cy="694.01" rx="10.59" ry="2.61" transform="rotate(-20 1193.42 694.01)"/><ellipse cx="1263.45" cy="728.21" rx="8.96" ry="3.58" transform="rotate(20 1263.45 728.21)"/><ellipse cx="1357.92" cy="726.58" rx="10.59" ry="2.28" transform="rotate(15 1357.92 726.58)"/><ellipse cx="1387.23" cy="713.55" rx="6.51" ry="2.28" transform="rotate(20 1387.23 713.55)"/><ellipse cx="862.8" cy="757.52" rx="10.59" ry="2.61" transform="rotate(-20 862.8 757.52)"/><ellipse cx="1191.79" cy="744.5" rx="15.47" ry="3.26" transform="rotate(10 1191.79 744.5)"/><ellipse cx="1097.33" cy="775.44" rx="32.57" ry="5.54" transform="rotate(-5 1097.33 775.44)"/><ellipse cx="1245.54" cy="772.18" rx="14.66" ry="5.54" transform="rotate(30 1245.54 772.18)"/><ellipse cx="1302.54" cy="762.41" rx="9.77" ry="2.61" transform="rotate(70 1302.54 762.41)"/><ellipse cx="1108.73" cy="816.16" rx="8.96" ry="2.93" transform="rotate(-30 1108.73 816.16)"/><ellipse cx="945.86" cy="842.21" rx="12.21" ry="2.61" transform="rotate(0 945.86 842.21)"/><ellipse cx="1191.79" cy="848.73" rx="39.09" ry="5.54" transform="rotate(-5 1191.79 848.73)"/><ellipse cx="1217.85" cy="845.47" rx="11.4" ry="4.89" transform="rotate(10 1217.85 845.47)"/><ellipse cx="1284.63" cy="842.21" rx="8.96" ry="3.58" transform="rotate(-30 1284.63 842.21)"/><ellipse cx="1305.8" cy="814.53" rx="11.4" ry="2.61" transform="rotate(60 1305.8 814.53)"/><ellipse cx="927.95" cy="886.19" rx="14.66" ry="2.93" transform="rotate(25 927.95 886.19)"/><ellipse cx="1077.79" cy="882.93" rx="9.77" ry="2.28" transform="rotate(10 1077.79 882.93)"/><ellipse cx="1128.27" cy="895.96" rx="8.96" ry="2.61" transform="rotate(-10 1128.27 895.96)"/><ellipse cx="1232.51" cy="892.7" rx="18.73" ry="2.93" transform="rotate(-5 1232.51 892.7)"/><ellipse cx="1331.86" cy="871.53" rx="8.96" ry="2.28" transform="rotate(80 1331.86 871.53)"/><ellipse cx="1191.79" cy="936.68" rx="22.8" ry="3.58" transform="rotate(5 1191.79 936.68)"/><ellipse cx="1120.13" cy="941.56" rx="4.07" ry="3.26" transform="rotate(0 1120.13 941.56)"/><ellipse cx="1129.9" cy="967.62" rx="4.07" ry="3.26" transform="rotate(0 1129.9 967.62)"/><ellipse cx="885.6" cy="786.84" rx="4.07" ry="4.89" transform="rotate(0 885.6 786.84)"/></g></g></g>
<text class="b" font-size="29.4" transform="translate(1467.4 743.2) scale(0.965 1)">Blue- DAPI</text><text class="b" font-size="29.4" transform="translate(1467.4 776.7) scale(0.965 1)">Red- HCMV IE</text>
</g>
<g id="panel-c">
<text class="b" x="-1" y="1068.3" font-size="37.8">c.</text>
<g class="chart">
<text class="b" text-anchor="middle" font-size="34.2" transform="translate(494.8 1078.2) scale(1 1)">Cell assoc. Merlin</text>
<text class="b" style="stroke-width:0.35px" text-anchor="middle" font-size="29.15" transform="translate(137.6 1375.5) rotate(-90)">Relative virus spread to no NK cells (%)</text>
<g stroke="#000" stroke-width="5.4" fill="none"><line x1="306.3" y1="1309.4" x2="306.3" y2="1336.5"/><line x1="306.3" y1="1530.9" x2="306.3" y2="1542"/><line x1="285.2" y1="1309.4" x2="327.1" y2="1309.4" stroke-linecap="round"/><line x1="285.2" y1="1542" x2="327.1" y2="1542" stroke-linecap="round"/><rect x="267.1" y="1339.2" width="78.2" height="189" fill="#BFBFBF"/><line x1="267.1" y1="1500.2" x2="345.3" y2="1500.2"/></g>
<g stroke="#000" stroke-width="5.4" fill="none"><line x1="431.8" y1="1336.5" x2="431.8" y2="1425.5"/><line x1="431.8" y1="1578.7" x2="431.8" y2="1585.6"/><line x1="410.8" y1="1336.5" x2="452.5" y2="1336.5" stroke-linecap="round"/><line x1="410.8" y1="1585.6" x2="452.5" y2="1585.6" stroke-linecap="round"/><rect x="392.9" y="1428.2" width="78.2" height="147.8" fill="#BFBFBF"/><line x1="392.9" y1="1554.3" x2="471.1" y2="1554.3"/></g>
<g stroke="#000" stroke-width="5.4" fill="none"><line x1="556.9" y1="1229.4" x2="556.9" y2="1241.9"/><line x1="556.9" y1="1372.7" x2="556.9" y2="1394.4"/><line x1="536.6" y1="1229.4" x2="578" y2="1229.4" stroke-linecap="round"/><line x1="536.6" y1="1394.4" x2="578" y2="1394.4" stroke-linecap="round"/><rect x="518" y="1244.6" width="78" height="125.4" fill="#fff"/><line x1="518" y1="1292" x2="596" y2="1292"/></g>
<g stroke="#000" stroke-width="5.4" fill="none"><line x1="681.9" y1="1386.3" x2="681.9" y2="1390"/><line x1="681.9" y1="1468.9" x2="681.9" y2="1478.3"/><line x1="661.5" y1="1386.3" x2="703.4" y2="1386.3" stroke-linecap="round"/><line x1="661.5" y1="1478.3" x2="703.4" y2="1478.3" stroke-linecap="round"/><rect x="643.8" y="1392.7" width="78.2" height="73.5" fill="#fff"/><line x1="643.8" y1="1420.7" x2="722" y2="1420.7"/></g>
<g stroke="#000" stroke-width="1.3" fill="none"><line x1="306.3" y1="1314.3" x2="431.8" y2="1337.4"/><line x1="306.3" y1="1309.8" x2="431.8" y2="1491.5"/><line x1="306.3" y1="1360.9" x2="431.8" y2="1362.1"/><line x1="306.3" y1="1360.9" x2="431.8" y2="1586.8"/><line x1="306.3" y1="1501.1" x2="431.8" y2="1555.8"/><line x1="306.3" y1="1525.5" x2="431.8" y2="1544.4"/><line x1="306.3" y1="1528" x2="431.8" y2="1571.5"/><line x1="306.3" y1="1531.8" x2="431.8" y2="1577.8"/><line x1="306.3" y1="1543.5" x2="431.8" y2="1583"/><line x1="556.9" y1="1230.3" x2="681.9" y2="1400.3"/><line x1="556.9" y1="1278.5" x2="681.9" y2="1443.7"/><line x1="556.9" y1="1308.8" x2="681.9" y2="1386.8"/><line x1="556.9" y1="1395.8" x2="681.9" y2="1479.4"/></g>
<g fill="#000"><circle cx="306.3" cy="1314.3" r="7.3"/><circle cx="431.8" cy="1337.4" r="7.3"/><circle cx="306.3" cy="1309.8" r="7.3"/><circle cx="431.8" cy="1491.5" r="7.3"/><circle cx="306.3" cy="1360.9" r="7.3"/><circle cx="431.8" cy="1362.1" r="7.3"/><circle cx="431.8" cy="1586.8" r="7.3"/><circle cx="306.3" cy="1501.1" r="7.3"/><circle cx="431.8" cy="1555.8" r="7.3"/><circle cx="306.3" cy="1525.5" r="7.3"/><circle cx="431.8" cy="1544.4" r="7.3"/><circle cx="306.3" cy="1528" r="7.3"/><circle cx="431.8" cy="1571.5" r="7.3"/><circle cx="306.3" cy="1531.8" r="7.3"/><circle cx="431.8" cy="1577.8" r="7.3"/><circle cx="306.3" cy="1543.5" r="7.3"/><circle cx="431.8" cy="1583" r="7.3"/><circle cx="556.9" cy="1230.3" r="7.3"/><circle cx="681.9" cy="1400.3" r="7.3"/><circle cx="556.9" cy="1278.5" r="7.3"/><circle cx="681.9" cy="1443.7" r="7.3"/><circle cx="556.9" cy="1308.8" r="7.3"/><circle cx="681.9" cy="1386.8" r="7.3"/><circle cx="556.9" cy="1395.8" r="7.3"/><circle cx="681.9" cy="1479.4" r="7.3"/></g>
<g stroke="#000" stroke-width="5.5" fill="none" stroke-linecap="butt"><path d="M222.8 1101.15 L222.8 1647.8 L766.9 1647.8"/><line x1="203.7" y1="1647.8" x2="222.8" y2="1647.8"/><line x1="203.7" y1="1466.5" x2="222.8" y2="1466.5"/><line x1="203.7" y1="1285.2" x2="222.8" y2="1285.2"/><line x1="203.7" y1="1103.9" x2="222.8" y2="1103.9"/><line x1="306.1" y1="1647.8" x2="306.1" y2="1666.9"/><line x1="431.6" y1="1647.8" x2="431.6" y2="1666.9"/><line x1="556.8" y1="1647.8" x2="556.8" y2="1666.9"/><line x1="682.4" y1="1647.8" x2="682.4" y2="1666.9"/></g>
<text class="b" text-anchor="end" font-size="29.4" transform="translate(200 1657.8) scale(0.942 1)">0</text><text class="b" text-anchor="end" font-size="29.4" transform="translate(200 1476.5) scale(0.942 1)">50</text><text class="b" text-anchor="end" font-size="29.4" transform="translate(200 1295.2) scale(0.942 1)">100</text><text class="b" text-anchor="end" font-size="29.4" transform="translate(200 1113.9) scale(0.942 1)">150</text>
<text text-anchor="middle" font-size="30.2" transform="translate(305.5 1705) scale(0.993 1)" stroke="#000" stroke-width="0.35">cNK</text><text text-anchor="middle" font-size="30.2" transform="translate(432 1702.3) scale(0.993 1)" stroke="#000" stroke-width="0.35">lrNK</text><text text-anchor="middle" font-size="30.2" transform="translate(557 1705) scale(0.993 1)" stroke="#000" stroke-width="0.35">cNK</text><text text-anchor="middle" font-size="30.2" transform="translate(688.4 1702.3) scale(0.993 1)" stroke="#000" stroke-width="0.35">lrNK</text>
<line x1="276.35" y1="1740" x2="478.65" y2="1740" stroke="#000" stroke-width="5.5" stroke-linecap="round"/><text text-anchor="middle" font-size="30.2" transform="translate(393.7 1772.1) scale(0.993 1)" stroke="#000" stroke-width="0.35">HCMV+</text>
<line x1="526.25" y1="1740" x2="728.65" y2="1740" stroke="#000" stroke-width="5.5" stroke-linecap="round"/><text text-anchor="middle" font-size="30.2" transform="translate(636.2 1772.1) scale(0.993 1)" stroke="#000" stroke-width="0.35">HCMV-</text>
<line x1="290.95" y1="1208" x2="568.75" y2="1208" stroke="#000" stroke-width="5.5" stroke-linecap="round"/><text text-anchor="middle" font-size="32.2" transform="translate(403.8 1193.3) scale(0.915 1)" stroke="#000" stroke-width="0.35">0.0336</text>
<line x1="298.25" y1="1258.7" x2="434.05" y2="1258.7" stroke="#000" stroke-width="5.5" stroke-linecap="round"/><text text-anchor="middle" font-size="32.2" transform="translate(359 1243.5) scale(0.915 1)" stroke="#000" stroke-width="0.35">0.0078</text>
</g>
<g class="chart">
<text class="b" text-anchor="middle" font-size="34.2" transform="translate(1272.3 1074.1) scale(1 1)">Cell free Merlin</text>
<text class="b" style="stroke-width:0.35px" text-anchor="middle" font-size="29.15" transform="translate(916.5 1376.4) rotate(-90)">Relative virus spread to no NK cells (%)</text>
<g stroke="#000" stroke-width="5.4" fill="none"><line x1="1084.1" y1="1364.8" x2="1084.1" y2="1410.8"/><line x1="1084.1" y1="1559.1" x2="1084.1" y2="1588.9"/><line x1="1063.7" y1="1364.8" x2="1105.3" y2="1364.8" stroke-linecap="round"/><line x1="1063.7" y1="1588.9" x2="1105.3" y2="1588.9" stroke-linecap="round"/><rect x="1045.7" y="1413.5" width="77.3" height="142.9" fill="#BFBFBF"/><line x1="1045.7" y1="1507.3" x2="1123" y2="1507.3"/></g>
<g stroke="#000" stroke-width="5.4" fill="none"><line x1="1209" y1="1468.9" x2="1209" y2="1520.3"/><line x1="1209" y1="1590.7" x2="1209" y2="1600.3"/><line x1="1188.8" y1="1468.9" x2="1230.3" y2="1468.9" stroke-linecap="round"/><line x1="1188.8" y1="1600.3" x2="1230.3" y2="1600.3" stroke-linecap="round"/><rect x="1170.8" y="1523" width="77.1" height="65" fill="#BFBFBF"/><line x1="1170.8" y1="1576.3" x2="1247.9" y2="1576.3"/></g>
<g stroke="#000" stroke-width="5.4" fill="none"><line x1="1334.5" y1="1325.2" x2="1334.5" y2="1328.4"/><line x1="1334.5" y1="1396.7" x2="1334.5" y2="1407"/><line x1="1313.7" y1="1325.2" x2="1355.3" y2="1325.2" stroke-linecap="round"/><line x1="1313.7" y1="1407" x2="1355.3" y2="1407" stroke-linecap="round"/><rect x="1295.7" y="1331.1" width="77.6" height="62.9" fill="#fff"/><line x1="1295.7" y1="1351.9" x2="1373.3" y2="1351.9"/></g>
<g stroke="#000" stroke-width="5.4" fill="none"><line x1="1459.6" y1="1359.1" x2="1459.6" y2="1376.3"/><line x1="1459.6" y1="1480.6" x2="1459.6" y2="1491.4"/><line x1="1438.8" y1="1359.1" x2="1480.3" y2="1359.1" stroke-linecap="round"/><line x1="1438.8" y1="1491.4" x2="1480.3" y2="1491.4" stroke-linecap="round"/><rect x="1420.8" y="1379" width="77.6" height="98.9" fill="#fff"/><line x1="1420.8" y1="1436.4" x2="1498.4" y2="1436.4"/></g>
<g stroke="#000" stroke-width="1.3" fill="none"><line x1="1084.1" y1="1364.8" x2="1209" y2="1597"/><line x1="1084.1" y1="1403.9" x2="1209" y2="1489.3"/><line x1="1084.1" y1="1417.8" x2="1209" y2="1551.9"/><line x1="1084.1" y1="1473" x2="1209" y2="1468.9"/><line x1="1084.1" y1="1507.7" x2="1209" y2="1577.2"/><line x1="1084.1" y1="1514" x2="1209" y2="1600.7"/><line x1="1084.1" y1="1537" x2="1209" y2="1584.4"/><line x1="1084.1" y1="1582.6" x2="1209" y2="1560"/><line x1="1084.1" y1="1589.8" x2="1209" y2="1580"/><line x1="1334.5" y1="1324.8" x2="1459.6" y2="1359.1"/><line x1="1334.5" y1="1335.7" x2="1459.6" y2="1425.4"/><line x1="1334.5" y1="1368.5" x2="1459.6" y2="1448.8"/><line x1="1334.5" y1="1407.5" x2="1459.6" y2="1491.8"/></g>
<g fill="#000"><circle cx="1084.1" cy="1364.8" r="7.3"/><circle cx="1209" cy="1597" r="7.3"/><circle cx="1084.1" cy="1403.9" r="7.3"/><circle cx="1209" cy="1489.3" r="7.3"/><circle cx="1084.1" cy="1417.8" r="7.3"/><circle cx="1209" cy="1551.9" r="7.3"/><circle cx="1084.1" cy="1473" r="7.3"/><circle cx="1209" cy="1468.9" r="7.3"/><circle cx="1084.1" cy="1507.7" r="7.3"/><circle cx="1209" cy="1577.2" r="7.3"/><circle cx="1084.1" cy="1514" r="7.3"/><circle cx="1209" cy="1600.7" r="7.3"/><circle cx="1084.1" cy="1537" r="7.3"/><circle cx="1209" cy="1584.4" r="7.3"/><circle cx="1084.1" cy="1582.6" r="7.3"/><circle cx="1209" cy="1560" r="7.3"/><circle cx="1084.1" cy="1589.8" r="7.3"/><circle cx="1209" cy="1580" r="7.3"/><circle cx="1334.5" cy="1324.8" r="7.3"/><circle cx="1459.6" cy="1359.1" r="7.3"/><circle cx="1334.5" cy="1335.7" r="7.3"/><circle cx="1459.6" cy="1425.4" r="7.3"/><circle cx="1334.5" cy="1368.5" r="7.3"/><circle cx="1459.6" cy="1448.8" r="7.3"/><circle cx="1334.5" cy="1407.5" r="7.3"/><circle cx="1459.6" cy="1491.8" r="7.3"/></g>
<g stroke="#000" stroke-width="5.5" fill="none" stroke-linecap="butt"><path d="M1001.8 1101.15 L1001.8 1647.1 L1543.8 1647.1"/><line x1="982.7" y1="1647.1" x2="1001.8" y2="1647.1"/><line x1="982.7" y1="1466.03" x2="1001.8" y2="1466.03"/><line x1="982.7" y1="1284.97" x2="1001.8" y2="1284.97"/><line x1="982.7" y1="1103.9" x2="1001.8" y2="1103.9"/><line x1="1083.7" y1="1647.1" x2="1083.7" y2="1666.2"/><line x1="1209.4" y1="1647.1" x2="1209.4" y2="1666.2"/><line x1="1334.1" y1="1647.1" x2="1334.1" y2="1666.2"/><line x1="1459.4" y1="1647.1" x2="1459.4" y2="1666.2"/></g>
<text class="b" text-anchor="end" font-size="29.4" transform="translate(979 1657.1) scale(0.942 1)">0</text><text class="b" text-anchor="end" font-size="29.4" transform="translate(979 1476.03) scale(0.942 1)">50</text><text class="b" text-anchor="end" font-size="29.4" transform="translate(979 1294.97) scale(0.942 1)">100</text><text class="b" text-anchor="end" font-size="29.4" transform="translate(979 1113.9) scale(0.942 1)">150</text>
<text text-anchor="middle" font-size="30.2" transform="translate(1074.7 1705) scale(0.993 1)" stroke="#000" stroke-width="0.35">cNK</text><text text-anchor="middle" font-size="30.2" transform="translate(1201.4 1702.3) scale(0.993 1)" stroke="#000" stroke-width="0.35">lrNK</text><text text-anchor="middle" font-size="30.2" transform="translate(1326.3 1705) scale(0.993 1)" stroke="#000" stroke-width="0.35">cNK</text><text text-anchor="middle" font-size="30.2" transform="translate(1457.6 1702.3) scale(0.993 1)" stroke="#000" stroke-width="0.35">lrNK</text>
<line x1="1045.25" y1="1740" x2="1248.15" y2="1740" stroke="#000" stroke-width="5.5" stroke-linecap="round"/><text text-anchor="middle" font-size="30.2" transform="translate(1163.5 1772.1) scale(0.993 1)" stroke="#000" stroke-width="0.35">HCMV+</text>
<line x1="1294.65" y1="1740" x2="1498.05" y2="1740" stroke="#000" stroke-width="5.5" stroke-linecap="round"/><text text-anchor="middle" font-size="30.2" transform="translate(1405.5 1772.1) scale(0.993 1)" stroke="#000" stroke-width="0.35">HCMV-</text>
<line x1="1225.05" y1="1167.4" x2="1458.45" y2="1167.4" stroke="#000" stroke-width="5.5" stroke-linecap="round"/><text text-anchor="middle" font-size="32.2" transform="translate(1327.6 1151.9) scale(0.915 1)" stroke="#000" stroke-width="0.35">0.0112</text>
<line x1="1084.45" y1="1223.3" x2="1318.25" y2="1223.3" stroke="#000" stroke-width="5.5" stroke-linecap="round"/><text text-anchor="middle" font-size="32.2" transform="translate(1184.3 1207.7) scale(0.915 1)" stroke="#000" stroke-width="0.35">0.0196</text>
<line x1="1068.35" y1="1287.3" x2="1224.65" y2="1287.3" stroke="#000" stroke-width="5.5" stroke-linecap="round"/><text text-anchor="middle" font-size="32.2" transform="translate(1145.6 1272.6) scale(0.915 1)" stroke="#000" stroke-width="0.35">0.0547</text>
</g>
<rect x="1552.7" y="1147.7" width="82.6" height="40.2" fill="#BFBFBF" stroke="#000" stroke-width="5.4"/>
<rect x="1552.7" y="1208.7" width="82.6" height="40.6" fill="#fff" stroke="#000" stroke-width="5.4"/>
<text text-anchor="start" font-size="30.2" transform="translate(1647.5 1176.8) scale(0.993 1)" stroke="#000" stroke-width="0.35">HCMV+</text>
<text text-anchor="start" font-size="30.2" transform="translate(1647.5 1237.2) scale(0.993 1)" stroke="#000" stroke-width="0.35">HCMV-</text>
</g>
</svg>
</body>
</html>
